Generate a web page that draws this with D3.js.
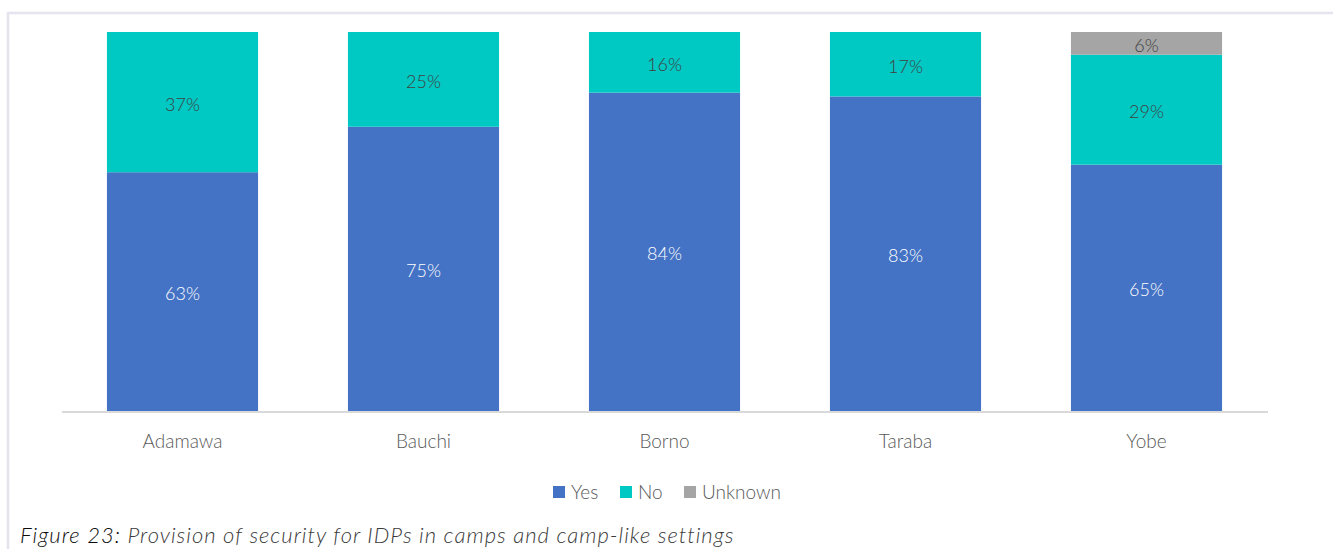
<!DOCTYPE html>
<html>
<head>
<meta charset="utf-8">
<script src="https://cdn.jsdelivr.net/npm/d3@7"></script>
<style>
  html, body { margin: 0; padding: 0; background: #fff; }
  svg { display: block; font-family: "Gill Sans", "Gill Sans MT", Lato, "Open Sans", sans-serif; font-weight: 300; }
</style>
</head>
<body>
<svg id="chart" width="1333" height="549"></svg>
<script>
// States and security provision shares (%)
const states = ["Adamawa", "Bauchi", "Borno", "Taraba", "Yobe"];
const yesValues = [63, 75, 84, 83, 65];
const noValues = [37, 25, 16, 17, 29];
const unknownValues = [0, 0, 0, 0, 6];
const seriesNames = ["Yes", "No", "Unknown"];
const seriesColors = ["#4472C4", "#00C8C3", "#A5A5A5"];
const labelColors = ["#ffffff", "#404040", "#404040"];
const captionLead = "Figure 23:";
const captionText = " Provision of security for IDPs in camps and camp-like settings";

const svg = d3.select("#chart");
const W = 1333, H = 549;

// Outer frame (top and left edges)
svg.append("line").attr("x1", 8).attr("x2", W).attr("y1", 13).attr("y2", 13)
  .attr("stroke", "#e4e4ef").attr("stroke-width", 2.5);
svg.append("line").attr("x1", 8).attr("x2", 8).attr("y1", 12).attr("y2", H)
  .attr("stroke", "#e4e4ef").attr("stroke-width", 2.5);

const plot = { left: 62, right: 1267, top: 32, bottom: 411 };

const x = d3.scaleBand()
  .domain(states)
  .range([plot.left, plot.right])
  .paddingInner(0.373)
  .paddingOuter(0.373 / 2);

const y = d3.scaleLinear().domain([0, 100]).range([plot.bottom, plot.top]);

const rows = states.map((s, i) => ({ state: s, Yes: yesValues[i], No: noValues[i], Unknown: unknownValues[i] }));
const stacked = d3.stack().keys(seriesNames)(rows);

const groups = svg.append("g").selectAll("g")
  .data(stacked)
  .join("g")
  .attr("fill", (d, i) => seriesColors[i]);

groups.selectAll("rect")
  .data(d => d.map(v => ({ v, key: d.key })))
  .join("rect")
  .attr("x", d => x(d.v.data.state))
  .attr("width", x.bandwidth())
  .attr("y", d => y(d.v[1]))
  .attr("height", d => y(d.v[0]) - y(d.v[1]));

// Segment value labels
stacked.forEach((layer, li) => {
  svg.append("g").selectAll("text")
    .data(layer.filter(d => d[1] - d[0] > 0))
    .join("text")
    .attr("x", d => x(d.data.state) + x.bandwidth() / 2)
    .attr("y", d => (y(d[0]) + y(d[1])) / 2 + 2)
    .attr("dy", "0.36em")
    .attr("text-anchor", "middle")
    .attr("font-size", 18)
    .attr("fill", labelColors[li])
    .text(d => (d[1] - d[0]) + "%");
});

// Category axis
const xAxis = svg.append("g")
  .attr("transform", `translate(0,${plot.bottom + 1})`)
  .call(d3.axisBottom(x).tickSize(0).tickPadding(23));
xAxis.select(".domain").attr("stroke", "#d9d9d9").attr("stroke-width", 2)
  .attr("d", `M${plot.left},0H${plot.right + 1}`);
xAxis.selectAll("text")
  .attr("font-size", 19)
  .attr("fill", "#595959")
  .attr("font-weight", 300)
  .attr("font-family", "Gill Sans, Gill Sans MT, Lato, Open Sans, sans-serif");

// Legend
const legendX = [553, 620, 684];
const legend = svg.append("g").selectAll("g")
  .data(seriesNames)
  .join("g")
  .attr("transform", (d, i) => `translate(${legendX[i]},486)`);
legend.append("rect").attr("width", 12).attr("height", 12)
  .attr("fill", (d, i) => seriesColors[i]);
legend.append("text")
  .attr("x", 18).attr("y", 6).attr("dy", "0.36em")
  .attr("font-size", 19).attr("fill", "#595959")
  .text(d => d);

// Caption
const cap = svg.append("text")
  .attr("x", 20).attr("y", 543)
  .attr("font-size", 22)
  .attr("font-style", "italic")
  .attr("font-weight", 300)
  .attr("letter-spacing", 1.0);
cap.append("tspan").attr("fill", "#0d0d0d").text(captionLead);
cap.append("tspan").attr("fill", "#3a3a3a").text(captionText);
</script>
</body>
</html>
